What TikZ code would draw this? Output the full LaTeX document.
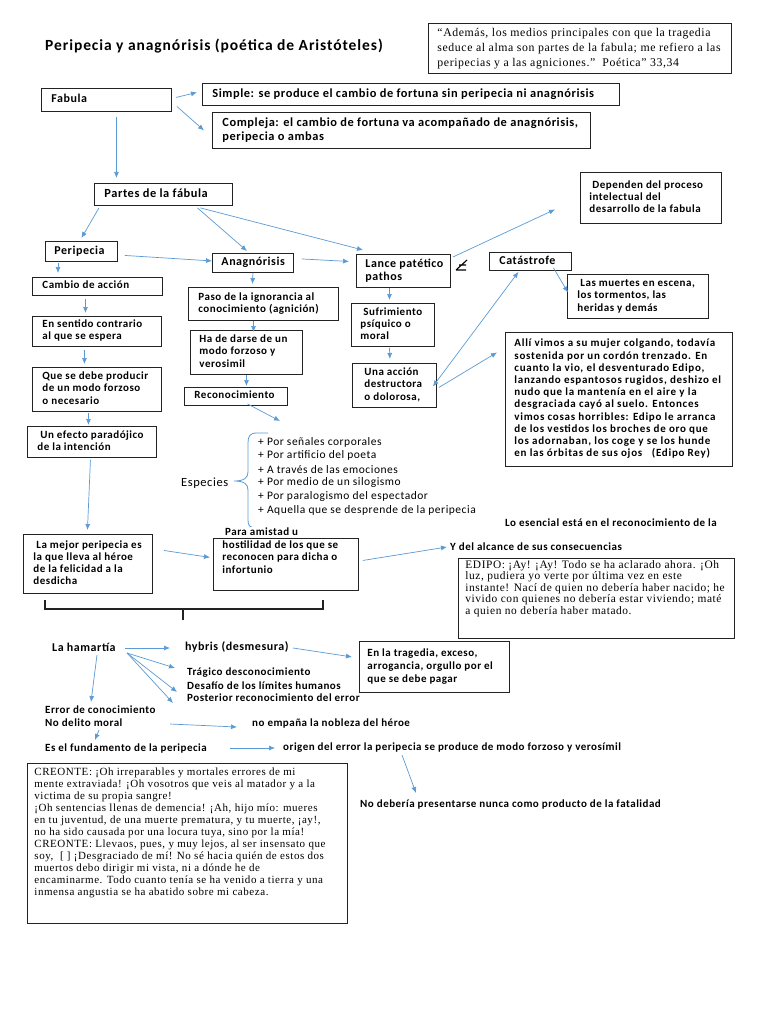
\documentclass[tikz,border=0pt]{standalone}
\usepackage{fontspec}
\setmainfont{Carlito}[LetterSpace=4.5]
\newfontfamily\quotefont{Liberation Serif}[LetterSpace=5]
\usetikzlibrary{arrows.meta,positioning,calc}
\definecolor{arrowblue}{RGB}{91,155,213}
\definecolor{boxline}{RGB}{35,35,35}
% box text: width, height, left margin, lines
\newcommand{\bx}[4]{\parbox[c][#2pt][c]{#1pt}{\hspace*{#3pt}\begin{tabular}[t]{@{}l@{}}#4\end{tabular}}}
% same, but text hangs from the top
\newcommand{\bxt}[5]{\parbox[c][#2pt][t]{#1pt}{\vspace*{#4pt}\hspace*{#3pt}\begin{tabular}[t]{@{}l@{}}#5\end{tabular}}}

\begin{document}
\begin{tikzpicture}[x=1pt,y=-1pt,>={Latex[length=6pt,width=5pt]}]
    \tikzstyle{box}=[draw=boxline,line width=0.9pt,anchor=north west,inner sep=0pt]
    \tikzstyle{tit}=[font=\bfseries\fontsize{15.5}{18}\selectfont\addfontfeatures{LetterSpace=6}]
    \tikzstyle{hd}=[font=\bfseries\fontsize{12.4}{14}\selectfont]
    \tikzstyle{md}=[font=\bfseries\fontsize{12}{13}\selectfont]
    \tikzstyle{sm}=[font=\bfseries\fontsize{11}{12.2}\selectfont]
    \tikzstyle{txt}=[anchor=west,inner sep=0pt]
    \tikzstyle{arr}=[->,draw=arrowblue,line width=0.7pt]
    \path[fill=white,use as bounding box] (0,0) rectangle (768,1024);

    % top part
    \node[txt,tit] (titulo) at (45,46) {Peripecia y anagnórisis (poética de Aristóteles)};
    \node[box,font=\quotefont\fontsize{11.8}{15}\selectfont] (cita) at (428,23) {\bx{303}{50}{9}{“Además, los medios principales con que la tragedia\\seduce al alma son partes de la fabula; me refiero a las\\peripecias y a las agniciones.”\ \ Poética” 33,34}};
    \node[box,md] (fabula) at (41,88) {\bx{130}{23}{10}{Fabula}};
    \node[box,hd] (simple) at (202,83) {\bx{417}{22}{10}{Simple: se produce el cambio de fortuna sin peripecia ni anagnórisis}};
    \node[box,hd] (compleja) at (212,112) {\bx{378}{36}{10}{Compleja: el cambio de fortuna va acompañado de anagnórisis,\\peripecia o ambas}};
    \node[box,hd] (partes) at (94,183) {\bx{138}{22}{10}{Partes de la fábula}};

    % the three parts
    \node[box,md] (peripecia) at (45,241) {\bx{72}{20}{9}{Peripecia}};
    \node[box,md] (anag) at (212,253) {\bx{81}{19}{9}{Anagnórisis}};
    \node[box,md] (lance) at (356,254) {\bx{94}{33}{9}{Lance patético\\pathos}};
    \draw[line width=1.1pt] (456,270) -- (467,260) (456,270) -- (466,270) (459,265) -- (466,265);
    \node[box,sm] (dependen) at (580,172) {\bx{141}{51}{9}{\ Dependen del proceso\\intelectual del\\desarrollo de la fabula}};
    \node[box,md] (catastrofe) at (489,252) {\bx{82}{18}{10}{Catástrofe}};
    \node[box,sm] (muertes) at (567,274) {\bx{141}{44}{10}{\ Las muertes en escena,\\los tormentos, las\\heridas y demás}};
    \node[box,sm] (sufr) at (351,303) {\bx{83}{43}{9}{\ Sufrimiento\\psíquico o\\moral}};
    \node[box,sm] (una) at (352,363) {\bx{84}{44}{12}{Una acción\\destructora\\o dolorosa,}};
    \node[box,font=\bfseries\fontsize{11}{12.2}\selectfont\addfontfeatures{LetterSpace=6.5}] (alli) at (505,332) {\bx{227}{134}{9}{Allí vimos a su mujer colgando, todavía\\sostenida por un cordón trenzado. En\\cuanto la vio, el desventurado Edipo,\\lanzando espantosos rugidos, deshizo el\\nudo que la mantenía en el aire y la\\desgraciada cayó al suelo. Entonces\\vimos cosas horribles: Edipo le arranca\\de los vestidos los broches de oro que\\los adornaban, los coge y se los hunde\\en las órbitas de sus ojos\ \ \ (Edipo Rey)}};

    % peripecia column
    \node[box,sm] (cambio) at (32,277) {\bx{130}{18}{10}{Cambio de acción}};
    \node[box,sm] (sentido) at (32,316) {\bx{129}{30}{10}{En sentido contrario\\al que se espera}};
    \node[box,sm] (quedebe) at (32,367) {\bx{129}{44}{10}{Que se debe producir\\de un modo forzoso\\o necesario}};
    \node[box,sm] (efecto) at (27,426) {\bx{129}{31}{10}{\ Un efecto paradójico\\de la intención}};
    \node[box,sm] (mejor) at (23,534) {\bx{129}{59}{10}{\ La mejor peripecia es\\la que lleva al héroe\\de la felicidad a la\\desdicha}};

    % anagnorisis column
    \node[box,sm] (paso) at (188,287) {\bx{150}{33}{10}{Paso de la ignorancia al\\conocimiento (agnición)}};
    \node[box,sm] (hade) at (190,330) {\bx{112}{44}{9}{Ha de darse de un\\modo forzoso y\\verosimil}};
    \node[box,sm] (recon) at (184,387) {\bx{103}{18}{10}{Reconocimiento}};
    \coordinate (bracetop) at (280,421);
    \node[txt,font=\fontsize{12.5}{14}\selectfont] (especies) at (181,483) {Especies};
    \foreach \t [count=\i] in {+ Por señales corporales, + Por artificio del poeta, + A través de las emociones, + Por medio de un silogismo, + Por paralogismo del espectador, + Aquella que se desprende de la peripecia}
        \node[txt,font=\fontsize{11.5}{13}\selectfont] (item\i) at (258,{442+(\i-1)*13.6}) {\t};
    \draw[arrowblue,line width=0.8pt] (268,433) -- (257,433) .. controls (250,433) and (248,436) .. (248,443) -- (248,472) .. controls (248,478) and (244,481) .. (234,481) .. controls (244,481) and (248,484) .. (248,490) -- (248,520) .. controls (248,526) and (250,528) .. (257,528) -- (267,528);
    \node[box,sm,font=\bfseries\fontsize{11}{12.5}\selectfont] (para) at (213,538) {\bxt{145}{52}{9}{1}{hostilidad de los que se\\reconocen para dicha o\\infortunio}};
    \node[txt,sm,fill=white,inner sep=1pt] (paratop) at (224,532) {Para amistad u};
    \node[txt,sm] (esencial) at (505,523) {Lo esencial está en el reconocimiento de la};
    \node[txt,sm] (yalcance) at (450,547) {Y del alcance de sus consecuencias};
    \node[box,font=\quotefont\fontsize{11.4}{11.5}\selectfont] (edipo) at (458,558) {\bxt{276}{80}{7}{1.5}{EDIPO: ¡Ay! ¡Ay! Todo se ha aclarado ahora. ¡Oh\\luz, pudiera yo verte por última vez en este\\instante! Nací de quien no debería haber nacido; he\\vivido con quienes no debería estar viviendo; maté\\a quien no debería haber matado.}};
    \draw[boxline,line width=1.3pt] (45,600) -- (45,609) -- (323,609) -- (323,600);
    \draw[boxline,line width=1.3pt] (183,609) -- (183,620);

    % hamartia
    \node[txt,md] (hamartia) at (52,647) {La hamartía};
    \node[txt,md] (hybris) at (185,647) {hybris (desmesura)};
    \node[box,sm,font=\bfseries\fontsize{11}{13}\selectfont] (tragedia) at (359,641) {\bx{150}{51}{8}{En la tragedia, exceso,\\arrogancia, orgullo por el\\que se debe pagar}};
    \node[txt,sm] (tragico) at (187,673) {Trágico desconocimiento};
    \node[txt,sm] (desafio) at (187,686) {Desafío de los límites humanos};
    \node[txt,sm] (posterior) at (187,698) {Posterior reconocimiento del error};
    \node[txt,sm] (errorcon) at (45,710) {Error de conocimiento};
    \node[txt,sm] (nodelito) at (45,723) {No delito moral};
    \node[txt,sm] (noempana) at (252,723) {no empaña la nobleza del héroe};
    \node[txt,sm] (fundamento) at (45,748) {Es el fundamento de la peripecia};
    \node[txt,sm] (origen) at (283,748) {origen del error la peripecia se produce de modo forzoso y verosímil};
    \node[txt,sm] (fatalidad) at (360,804) {No debería presentarse nunca como producto de la fatalidad};
    \node[box,font=\quotefont\fontsize{11}{12}\selectfont] (creonte) at (27,763) {\bxt{320}{160}{7}{4}{CREONTE: ¡Oh irreparables y mortales errores de mi\\mente extraviada! ¡Oh vosotros que veis al matador y a la\\victima de su propia sangre!\\¡Oh sentencias llenas de demencia! ¡Ah, hijo mío: mueres\\en tu juventud, de una muerte prematura, y tu muerte, ¡ay!,\\no ha sido causada por una locura tuya, sino por la mía!\\CREONTE: Llevaos, pues, y muy lejos, al ser insensato que\\soy,\ \ [ ] ¡Desgraciado de mí! No sé hacia quién de estos dos\\muertos debo dirigir mi vista, ni a dónde he de\\encaminarme. Todo cuanto tenía se ha venido a tierra y una\\inmensa angustia se ha abatido sobre mi cabeza.}};

    % connectors
    \draw[arr] ([shift={(4,-2.5)}]fabula.east) -- ([shift={(-5,-2)}]simple.west);
    \draw[arr] ([shift={(5,6.5)}]fabula.east) -- ([shift={(-8,0)}]compleja.west);
    \draw[arr] ([shift={(10,5)}]fabula.south) -- ([shift={(-47,-5)}]partes.north);
    \draw[arr] ([shift={(5,2)}]partes.south west) -- ([shift={(0,-3)}]peripecia.north);
    \draw[arr] ([shift={(34,2)}]partes.south) -- ([shift={(-6,-2)}]anag.north);
    \draw[arr] ([shift={(37,2)}]partes.south) -- ([shift={(7,-4)}]lance.north west);
    \draw[arr] ([shift={(7,4)}]peripecia.east) -- ([shift={(0,-2)}]anag.west);
    \draw[arr] ([shift={(8,-4)}]anag.east) -- ([shift={(-7,-9.5)}]lance.west);
    \draw[arr] ([shift={(2,3)}]lance.north east) -- ([shift={(-25,11.5)}]dependen.west);
    \draw[arr] ([shift={(23,-3)}]catastrofe.south) -- ([shift={(1,-4)}]muertes.west);
    \draw[arr] ([shift={(-14,0)}]lance.south) -- ([shift={(-3.5,-3)}]sufr.north);
    \draw[arr] ([shift={(-3.5,1)}]sufr.south) -- ([shift={(-4.5,-4)}]una.north);
    \draw[arr,<->] ([shift={(-4,1)}]una.east) -- ([shift={(-12,1)}]catastrofe.south);
    \draw[arr] ([shift={(2,2)}]una.east) -- ([shift={(-8,-47)}]alli.west);
    \draw[arr] ([shift={(13,1)}]peripecia.south west) -- ([shift={(26,-4)}]cambio.north west);
    \draw[arr] ([shift={(-12,3)}]cambio.south) -- ([shift={(-11.5,-3)}]sentido.north);
    \draw[arr] ([shift={(-12.5,3)}]sentido.south) -- ([shift={(-12.5,-3)}]quedebe.north);
    \draw[arr] ([shift={(-8.5,1)}]quedebe.south) -- ([shift={(-3.5,-1)}]efecto.north);
    \draw[arr] ([shift={(-1.5,2)}]efecto.south) -- ([shift={(-0.5,-4)}]mejor.north);
    \draw[arr] (anag.south) -- ([shift={(-11,-3)}]paso.north);
    \draw[arr] ([shift={(-10,0)}]paso.south) -- ([shift={(7,2)}]hade.north);
    \draw[arr] (hade.south) -- ([shift={(10.5,-1)}]recon.north);
    \draw[arr] ([shift={(11.5,-2)}]recon.south) -- (bracetop);
    \draw[arr] ([shift={(11,-13.5)}]mejor.east) -- ([shift={(-3,-7)}]para.west);
    \draw[arr] ([shift={(4,-4)}]para.east) -- ([shift={(-3,0)}]yalcance.west);
    \draw[arr] ([shift={(73,1)}]hamartia.west) -- ([shift={(-15,1)}]hybris.west);
    \draw[arr] ([shift={(108,1)}]hybris.west) -- ([shift={(-7,-10)}]tragedia.west);
    \draw[arr] ([shift={(75,6)}]hamartia.west) -- ([shift={(-12,-5)}]tragico.west);
    \draw[arr] ([shift={(75,6)}]hamartia.west) -- ([shift={(-10,6)}]desafio.west);
    \draw[arr] ([shift={(75,6)}]hamartia.west) -- ([shift={(-14,5)}]posterior.west);
    \draw[arr] ([shift={(45,8)}]hamartia.west) -- ([shift={(46,-8)}]errorcon.west);
    \draw[arr] ([shift={(125,1)}]nodelito.west) -- ([shift={(-15,4)}]noempana.west);
    \draw[arr] ([shift={(54,7)}]nodelito.west) -- ([shift={(50,-8)}]fundamento.west);
    \draw[arr] ([shift={(185,0)}]fundamento.west) -- ([shift={(-8,0)}]origen.west);
    \draw[arr] ([shift={(119,7)}]origen.west) -- ([shift={(56,-11)}]fatalidad.west);
\end{tikzpicture}
\end{document}
